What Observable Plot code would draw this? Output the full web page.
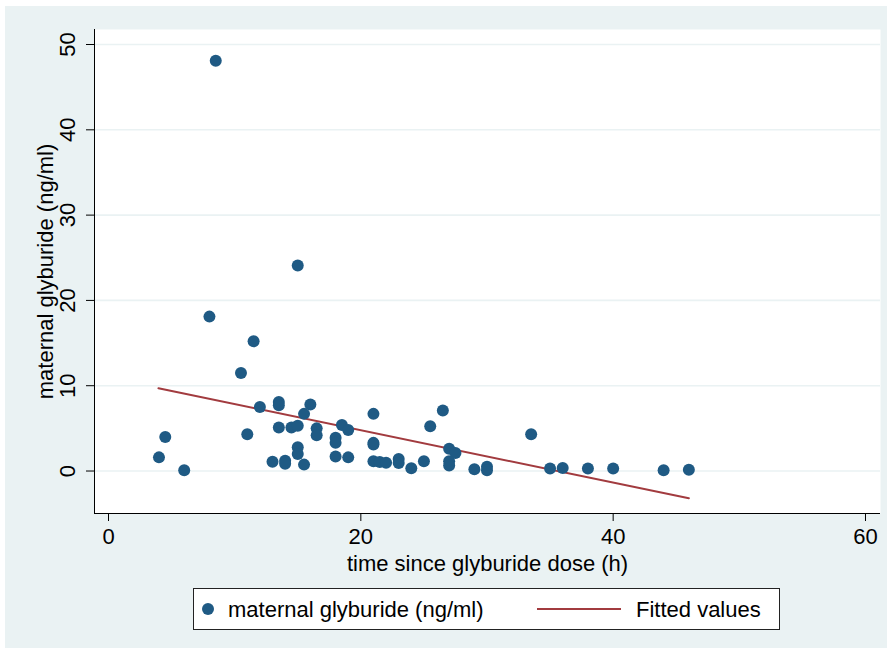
<!DOCTYPE html>
<html>
<head>
<meta charset="utf-8">
<script src="https://cdn.jsdelivr.net/npm/d3@7"></script>
<script src="https://cdn.jsdelivr.net/npm/@observablehq/plot@0.6"></script>
<style>
  body { margin: 0; background: #ffffff; font-family: "Liberation Sans", Arial, sans-serif; }
  #wrap { position: relative; width: 892px; height: 653px; overflow: hidden; }
  #bg { position: absolute; left: 5px; top: 6px; width: 882px; height: 642px; background: #eaf2f3; }
  #chart { position: absolute; left: 0; top: 0; }
  #legend { position: absolute; left: 193px; top: 588px; width: 585px; height: 40px; background: #fff;
            border: 1px solid #222; font-size: 22px; color: #000; }
  .lg { position: absolute; white-space: nowrap; line-height: 1; }
</style>
</head>
<body>
<div id="wrap">
  <div id="bg"></div>
  <div id="chart"></div>
  <div id="legend">
    <svg width="585" height="40" style="position:absolute;left:0;top:0">
      <circle cx="14" cy="20" r="6" fill="#1f5a84"></circle>
      <line x1="343" x2="427" y1="20" y2="20" stroke="#a23b3f" stroke-width="2"></line>
    </svg>
    <span class="lg" style="left:34px; top:10px">maternal glyburide (ng/ml)</span>
    <span class="lg" style="left:442px; top:10px">Fitted values</span>
  </div>
</div>
<script>
// time since glyburide dose (h)
const timeH = [8.5, 15.0, 8.0, 11.5, 10.5, 12.0, 13.5, 13.5, 16.0, 15.5,
  13.5, 14.5, 15.0, 16.5, 16.5, 4.5, 11.0, 4.0, 6.0, 13.0,
  14.0, 14.0, 15.0, 15.0, 15.5, 18.5, 19.0, 21.0, 18.0, 18.0,
  21.0, 21.0, 18.0, 19.0, 21.0, 21.5, 22.0, 23.0, 23.0, 24.0,
  25.0, 25.5, 26.5, 27.0, 27.5, 27.0, 27.0, 29.0, 30.0, 30.0,
  33.5, 35.0, 36.0, 38.0, 40.0, 44.0, 46.0];
// maternal glyburide (ng/ml)
const glyb = [48.1, 24.1, 18.1, 15.2, 11.5, 7.5, 8.1, 7.7, 7.8, 6.7,
  5.1, 5.1, 5.3, 5.0, 4.2, 4.0, 4.3, 1.6, 0.1, 1.1,
  1.2, 0.85, 2.8, 2.0, 0.75, 5.4, 4.8, 6.7, 3.9, 3.3,
  3.3, 3.1, 1.7, 1.6, 1.15, 1.05, 0.96, 1.4, 0.95, 0.33,
  1.15, 5.25, 7.1, 2.6, 2.1, 1.15, 0.65, 0.2, 0.5, 0.1,
  4.3, 0.3, 0.35, 0.3, 0.3, 0.1, 0.15];
// Fitted values (linear fit endpoints)
const fitX = [3.96, 46.0];
const fitY = [9.7, -3.2];
const xTicks = [0, 20, 40, 60];
const yTicks = [0, 10, 20, 30, 40, 50];

const points = timeH.map((t, i) => ({t, g: glyb[i]}));
const fit = fitX.map((x, i) => ({x, y: fitY[i]}));

const X0 = -1.11, X1 = 61.19, Y0 = -4.98, Y1 = 51.76;

const chart = Plot.plot({
  width: 892,
  height: 653,
  marginLeft: 94,
  marginRight: 12,
  marginTop: 29,
  marginBottom: 140,
  style: {background: "transparent", fontFamily: "Liberation Sans, Arial, sans-serif", fontSize: "22px", color: "#000"},
  x: {domain: [X0, X1]},
  y: {domain: [Y0, Y1]},
  marks: [
    Plot.frame({fill: "white", stroke: null}),
    Plot.gridY(yTicks, {stroke: "#eaf2f3", strokeOpacity: 1, strokeWidth: 1.6}),
    Plot.ruleX([X0], {stroke: "#000", strokeWidth: 1}),
    Plot.ruleY([Y0], {stroke: "#000", strokeWidth: 1}),
    Plot.axisX(xTicks, {tickSize: 8, tickPadding: 7, label: null, fontSize: 22}),
    Plot.axisY(yTicks, {tickSize: 8, tickFormat: () => "", label: null}),
    Plot.text(yTicks, {y: d => d, text: d => String(d), frameAnchor: "left", dx: -27, rotate: -90,
      textAnchor: "middle", lineAnchor: "middle", fontSize: 22}),
    Plot.text(["time since glyburide dose (h)"], {frameAnchor: "bottom", dy: 50, textAnchor: "middle", lineAnchor: "middle", fontSize: 22}),
    Plot.text(["maternal glyburide (ng/ml)"], {frameAnchor: "left", dx: -49, rotate: -90, textAnchor: "middle", lineAnchor: "middle", fontSize: 22}),
    Plot.line(fit, {x: "x", y: "y", stroke: "#a23b3f", strokeWidth: 2}),
    Plot.dot(points, {x: "t", y: "g", r: 6, fill: "#1f5a84", stroke: null})
  ]
});
document.getElementById("chart").appendChild(chart);
</script>
</body>
</html>
